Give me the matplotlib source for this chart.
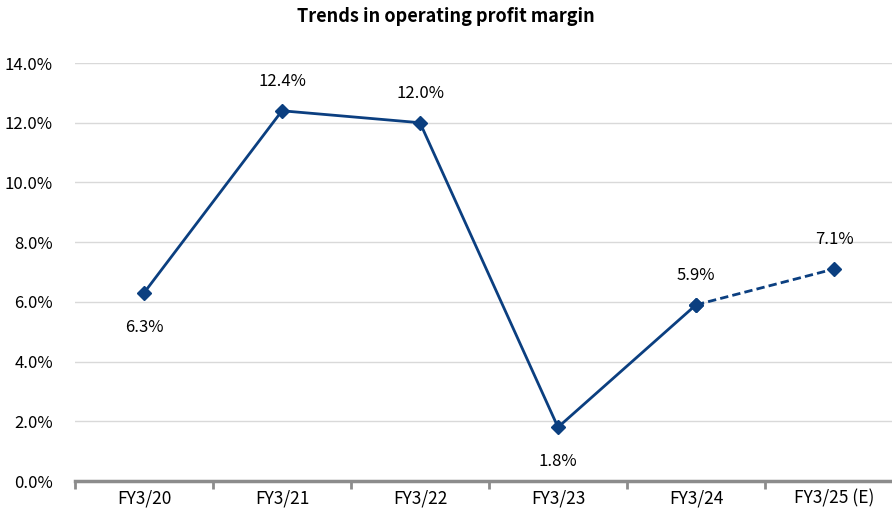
import matplotlib
matplotlib.use("Agg")
import matplotlib.pyplot as plt

plt.rcParams['font.family'] = ['Noto Sans CJK JP', 'DejaVu Sans']

categories = ["FY3/20", "FY3/21", "FY3/22", "FY3/23", "FY3/24", "FY3/25 (E)"]
margin = [6.3, 12.4, 12.0, 1.8, 5.9, 7.1]
label_pos = ["below", "above", "above", "below", "above", "above"]
yticks = [0, 2, 4, 6, 8, 10, 12, 14]

color = "#0b3f80"

fig = plt.figure(figsize=(8.92, 5.17), dpi=100)
ax = fig.add_axes([75 / 892, 1 - 481 / 517, 828 / 892, 418 / 517])

x = list(range(len(categories)))
# actual results solid, forecast dashed
ax.plot(x[:5], margin[:5], color=color, lw=2, marker="D", ms=7, zorder=3)
ax.plot(x[4:], margin[4:], color=color, lw=2, ls=(0, (3, 1.5)), marker="D", ms=7, zorder=3)

for i, v in enumerate(margin):
    dy = 21 if label_pos[i] == "above" else -25
    ax.annotate(f"{v:.1f}%", (i, v), xytext=(0, dy), textcoords="offset points",
                ha="center", va="center", fontsize=12)

ax.set_xlim(-0.5, 5.5)
ax.set_ylim(0, 14)
ax.set_yticks(yticks)
ax.set_yticklabels([f"{t:.1f}%" for t in yticks], fontsize=12)
ax.set_xticks([i - 0.5 for i in range(6)], minor=False)
ax.set_xticklabels([])
ax.set_xticks(x, minor=True)
ax.set_xticklabels(categories, minor=True, fontsize=12.5)
ax.tick_params(axis="x", which="major", length=6, width=2, color="#8c8c8c", direction="out")
ax.tick_params(axis="x", which="minor", length=0, pad=6)
ax.tick_params(axis="y", length=0, pad=16)

ax.grid(axis="y", color="#d9d9d9", lw=1)
ax.set_axisbelow(True)
for s in ["top", "right", "left"]:
    ax.spines[s].set_visible(False)
ax.spines["bottom"].set_color("#8c8c8c")
ax.spines["bottom"].set_linewidth(2.5)

fig.text(0.5, 1 - 16 / 517, "Trends in operating profit margin", ha="center", va="center",
         fontsize=13, fontweight="bold")

fig.savefig("out.png", dpi=100)
